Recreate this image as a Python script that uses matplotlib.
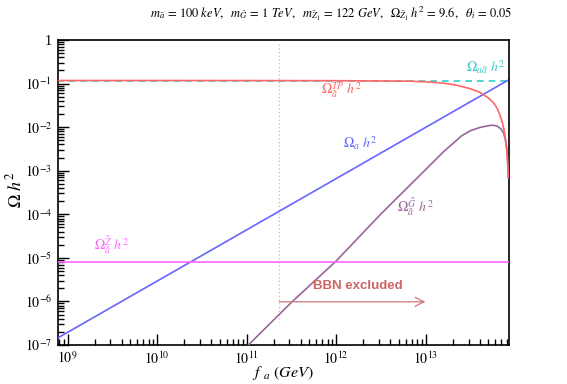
import numpy as np
import matplotlib
matplotlib.use("Agg")
import matplotlib.pyplot as plt
from matplotlib.ticker import FixedLocator, NullFormatter, LogLocator

plt.rcParams['font.family'] = ['Liberation Serif', 'DejaVu Serif']
plt.rcParams['mathtext.fontset'] = 'stix'

# ---- data ----
# Omega_a h^2 (axion, blue)
fa_axion = [7.8e8, 8.15e13]
om_axion = [1.46e-7, 0.117]

# Omega_aa~ h^2 total (cyan dashed)
fa_total = [7.6e8, 8.15e13]
om_total = [0.117, 0.117]

# Omega_a~^TP h^2 (red), log10 values
lf_tp = [8.88, 10.0, 11.0, 12.0, 12.5, 12.8, 13.0, 13.2, 13.35, 13.5, 13.6,
         13.7, 13.76, 13.8, 13.83, 13.86, 13.88, 13.895, 13.905, 13.915, 13.922]
lo_tp = [-0.93, -0.93, -0.931, -0.934, -0.94, -0.945, -0.96, -0.99, -1.04,
         -1.12, -1.20, -1.33, -1.45, -1.58, -1.73, -1.93, -2.13, -2.35, -2.55,
         -2.85, -3.16]

# Omega_a~^G~ h^2 (purple), log10 values
lf_grav = [10.9, 11.5, 12.0, 12.5, 13.0, 13.2, 13.3, 13.4, 13.5, 13.6, 13.7,
           13.75, 13.8, 13.84, 13.87, 13.89, 13.905, 13.915, 13.922]
lo_grav = [-7.24, -6.02, -5.07, -3.99, -2.97, -2.56, -2.38, -2.20, -2.08,
           -2.01, -1.965, -1.955, -1.98, -2.04, -2.14, -2.30, -2.50, -2.80,
           -3.16]

# Omega_a~^Z~ h^2 (magenta)
fa_neut = [7.6e8, 9.0e13]
om_neut = [8.1e-6, 8.1e-6]

# BBN bound
fa_bbn = 2.31e11
bbn_arrow_end = 9.9e12

yticks = [1e-7, 1e-6, 1e-5, 1e-4, 1e-3, 1e-2, 1e-1, 1]
ytick_labels = [r"$10^{-7}$", r"$10^{-6}$", r"$10^{-5}$", r"$10^{-4}$",
                r"$10^{-3}$", r"$10^{-2}$", r"$10^{-1}$", "1"]
xticks = [1e9, 1e10, 1e11, 1e12, 1e13]
xtick_labels = [r"$10^{9}$", r"$10^{10}$", r"$10^{11}$", r"$10^{12}$", r"$10^{13}$"]

# ---- figure ----
fig = plt.figure(figsize=(5.67, 3.84), dpi=100)
ax = fig.add_axes([57.5/567, 1-345/384, (509-57.5)/567, (345-40)/384])
ax.set_xscale('log')
ax.set_yscale('log')
ax.set_xlim(7.7e8, 8.5e13)
ax.set_ylim(1e-7, 1)

lw = 1.2
ax.plot(fa_total, om_total, color='#33cccc', lw=lw, ls=(0, (4, 3)), zorder=2)
ax.plot(fa_axion, om_axion, color='#6666ff', lw=lw, zorder=3)
ax.plot(10**np.array(lf_tp), 10**np.array(lo_tp), color='#ff6666', lw=lw, zorder=4)
ax.plot(10**np.array(lf_grav), 10**np.array(lo_grav), color='#996699', lw=lw, zorder=3)
ax.plot(fa_neut, om_neut, color='#ff66ff', lw=lw, zorder=3)

ax.plot([fa_bbn, fa_bbn], [0.8, 3.4e-7], color='#ff99bb', lw=0.9, ls=(0, (1, 2)), zorder=1)
ax.annotate("", xy=(bbn_arrow_end, 9.8e-7), xytext=(fa_bbn, 9.8e-7),
            arrowprops=dict(arrowstyle='->', color='#cc7777', lw=0.9,
                            mutation_scale=16, shrinkA=0, shrinkB=0))
ax.text(1.72e12, 2.3e-6, "BBN excluded", color='#cc6666', fontsize=9.5,
        fontweight='bold', family=['Liberation Sans', 'DejaVu Sans'],
        ha='center', va='center')

fs = 10
ax.text(10**13.671, 10**-0.62, r"$\Omega_{a\tilde{a}}\ h^2$", color='#33cccc',
        fontsize=fs, ha='center', va='center')
ax.text(10**12.056, 10**-1.15, r"$\Omega_{\tilde{a}}^{TP}\ h^2$", color='#ff6666',
        fontsize=fs, ha='center', va='center')
ax.text(10**12.274, 10**-2.36, r"$\Omega_{a}\ h^2$", color='#6666ff',
        fontsize=fs, ha='center', va='center')
ax.text(10**12.883, 10**-3.83, r"$\Omega_{\tilde{a}}^{\tilde{G}}\ h^2$", color='#996699',
        fontsize=fs, ha='center', va='center')
ax.text(10**9.486, 10**-4.70, r"$\Omega_{\tilde{a}}^{\tilde{Z}}\ h^2$", color='#ff66ff',
        fontsize=fs, ha='center', va='center')

# axes styling
for s in ax.spines.values():
    s.set_linewidth(1.2)
ax.yaxis.set_major_locator(FixedLocator(yticks))
ax.set_yticklabels(ytick_labels)
ax.xaxis.set_major_locator(FixedLocator(xticks))
ax.set_xticklabels(xtick_labels)
ax.xaxis.set_minor_locator(LogLocator(base=10, subs=np.arange(2, 10)))
ax.yaxis.set_minor_locator(LogLocator(base=10, subs=np.arange(2, 10)))
ax.xaxis.set_minor_formatter(NullFormatter())
ax.yaxis.set_minor_formatter(NullFormatter())
ax.tick_params(which='both', direction='in', top=False, right=False,
               labelsize=10, width=1)
ax.tick_params(which='major', length=8, pad=4)
ax.tick_params(which='minor', length=4)

ax.set_xlabel(r"$f_{\;\;a}\ (GeV)$", fontsize=11.5)
ax.xaxis.set_label_coords(0.5, -0.061)
ax.set_ylabel(r"$\Omega\ h^2$", fontsize=13)
ax.yaxis.set_label_coords(-0.07, 0.51)

fig.text(331/567, 1-14/384,
         r"$m_{\tilde{a}}\,=\,100\ keV,\ \ m_{\tilde{G}}\,=\,1\ TeV,\ \ m_{\tilde{Z}_1}\,=\,122\ GeV,\ \ \Omega_{\tilde{Z}_1}\,h^2\,=\,9.6,\ \ \theta_i\,=\,0.05$",
         ha='center', va='center', fontsize=9)

fig.savefig("out.png", dpi=100)
